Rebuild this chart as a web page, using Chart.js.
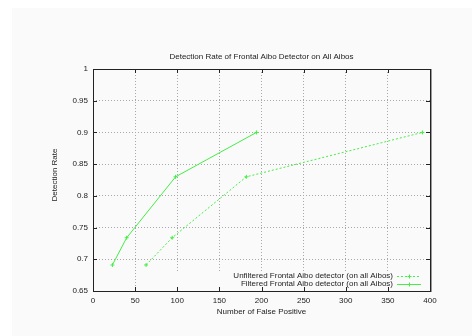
<!DOCTYPE html>
<html>
<head>
<meta charset="utf-8">
<script src="https://cdn.jsdelivr.net/npm/chart.js@4/dist/chart.umd.min.js"></script>
<style>
html,body{margin:0;padding:0;background:#ffffff;}
#wrap{position:absolute;left:0;top:0;width:472px;height:336px;}
</style>
</head>
<body>
<div id="wrap"><canvas id="c" width="472" height="336"></canvas></div>
<script>
const chartTitle = "Detection Rate of Frontal Aibo Detector on All Aibos";
const xTitle = "Number of False Positive";
const yTitle = "Detection Rate";
const unfilteredLabel = "Unfiltered Frontal Aibo detector (on all Aibos)";
const filteredLabel = "Filtered Frontal Aibo detector (on all Aibos)";
const unfilteredX = [63, 94, 182, 391];
const unfilteredY = [0.691, 0.734, 0.830, 0.900];
const filteredX = [23, 40, 98, 194];
const filteredY = [0.691, 0.734, 0.830, 0.900];
const xTicks = [0, 50, 100, 150, 200, 250, 300, 350, 400];
const yTicks = [0.65, 0.7, 0.75, 0.8, 0.85, 0.9, 0.95, 1];

const FONT = "Liberation Sans, Arial, sans-serif";
const GREEN = "#44ee44";
const BG = "#fafafa";

function pts(xs, ys){ return xs.map((x,i)=>({x:x, y:ys[i]})); }

const decor = {
  id: 'decor',
  beforeDraw(chart){
    const ctx = chart.ctx;
    ctx.save();
    ctx.fillStyle = BG;
    ctx.fillRect(12, 8, 460, 328);
    ctx.restore();
  },
  beforeDatasetsDraw(chart){
    const ctx = chart.ctx, a = chart.chartArea;
    const xs = chart.scales.x, ys = chart.scales.y;
    ctx.save();
    ctx.fillStyle = BG;
    ctx.fillRect(150, 273, a.right - 151, a.bottom - 274);
    ctx.strokeStyle = "#222";
    ctx.lineWidth = 1;
    ctx.strokeRect(Math.round(a.left)+0.5, Math.round(a.top)+0.5, Math.round(a.right-a.left), Math.round(a.bottom-a.top));
    ctx.strokeStyle = "#999";
    ctx.beginPath();
    ctx.moveTo(Math.round(a.right)+1.5, a.top); ctx.lineTo(Math.round(a.right)+1.5, a.bottom+1);
    ctx.stroke();
    ctx.strokeStyle = "#222";
    ctx.beginPath();
    const L = 4;
    xTicks.forEach(v=>{
      const px = Math.round(xs.getPixelForValue(v))+0.5;
      ctx.moveTo(px, a.bottom); ctx.lineTo(px, a.bottom - L);
      ctx.moveTo(px, a.top); ctx.lineTo(px, a.top + L);
    });
    yTicks.forEach(v=>{
      const py = Math.round(ys.getPixelForValue(v))+0.5;
      ctx.moveTo(a.left, py); ctx.lineTo(a.left + L, py);
      ctx.moveTo(a.right, py); ctx.lineTo(a.right - L, py);
    });
    ctx.stroke();
    ctx.restore();
  },
  afterDraw(chart){
    const ctx = chart.ctx, a = chart.chartArea;
    ctx.save();
    ctx.fillStyle = "#222";
    ctx.font = "8px " + FONT;
    ctx.textAlign = "center";
    ctx.textBaseline = "middle";
    ctx.fillText(chartTitle, (a.left + a.right)/2, 57);
    ctx.fillText(xTitle, (a.left + a.right)/2, 312);
    ctx.save();
    ctx.translate(55, 175);
    ctx.rotate(-Math.PI/2);
    ctx.fillText(yTitle, 0, 0);
    ctx.restore();
    const rows = [
      {label: unfilteredLabel, dash: [2,2], y: 276},
      {label: filteredLabel, dash: [], y: 284}
    ];
    rows.forEach(r=>{
      ctx.fillStyle = "#222";
      ctx.textAlign = "right";
      ctx.fillText(r.label, 393, r.y);
      ctx.strokeStyle = GREEN;
      ctx.lineWidth = 1;
      ctx.setLineDash(r.dash);
      ctx.beginPath();
      ctx.moveTo(397, r.y + 0.5); ctx.lineTo(421, r.y + 0.5);
      ctx.stroke();
      ctx.setLineDash([]);
      ctx.beginPath();
      ctx.moveTo(409.5, r.y - 1.5); ctx.lineTo(409.5, r.y + 2.5);
      ctx.moveTo(407.5, r.y + 0.5); ctx.lineTo(411.5, r.y + 0.5);
      ctx.stroke();
    });
    ctx.restore();
  }
};

new Chart(document.getElementById('c'), {
  type: 'scatter',
  data: {
    datasets: [
      {
        label: unfilteredLabel,
        data: pts(unfilteredX, unfilteredY),
        showLine: true,
        borderColor: GREEN,
        backgroundColor: GREEN,
        borderWidth: 1,
        borderDash: [2,2],
        pointStyle: 'cross',
        pointRadius: 2,
        pointBorderWidth: 1,
        pointBorderColor: GREEN
      },
      {
        label: filteredLabel,
        data: pts(filteredX, filteredY),
        showLine: true,
        borderColor: GREEN,
        backgroundColor: GREEN,
        borderWidth: 1,
        pointStyle: 'cross',
        pointRadius: 2,
        pointBorderWidth: 1,
        pointBorderColor: GREEN
      }
    ]
  },
  options: {
    responsive: false,
    animation: false,
    devicePixelRatio: 1,
    layout: { padding: { left: 0, top: 69, right: 42, bottom: 0 } },
    plugins: { legend: { display: false }, title: { display: false }, tooltip: { enabled: false } },
    scales: {
      x: {
        type: 'linear', min: 0, max: 400,
        afterBuildTicks(s){ s.ticks = xTicks.map(v=>({value:v})); },
        afterFit(s){ s.height = 45; },
        border: { display: false, dash: [1,2] },
        grid: { color: '#a8a8a8', lineWidth: 1, drawTicks: false },
        ticks: { color: '#222', font: { family: FONT, size: 8 }, padding: 5, maxRotation: 0, autoSkip: false },
      },
      y: {
        type: 'linear', min: 0.65, max: 1,
        afterBuildTicks(s){ s.ticks = yTicks.map(v=>({value:v})); },
        afterFit(s){ s.width = 93; },
        border: { display: false, dash: [1,2] },
        grid: { color: '#a8a8a8', lineWidth: 1, drawTicks: false },
        ticks: { color: '#222', font: { family: FONT, size: 8 }, padding: 5, autoSkip: false,
          callback: v => String(Math.round(v*100)/100) },
      }
    }
  },
  plugins: [decor]
});
</script>
</body>
</html>
